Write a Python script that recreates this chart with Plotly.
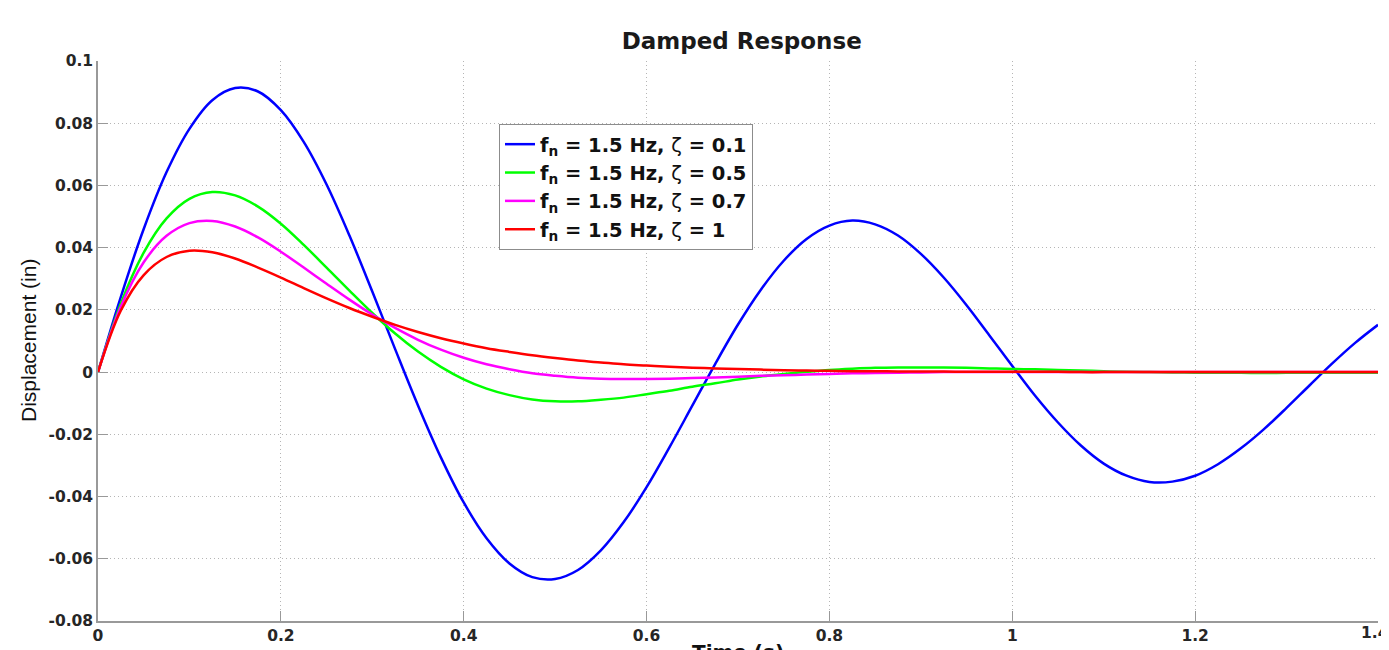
import plotly.graph_objects as go

# time samples (s)
time_s = [round(0.025 * i, 3) for i in range(57)]

disp_z01 = [0.0, 0.0242, 0.0460, 0.0643, 0.0782, 0.0874, 0.0913, 0.0902, 0.0842, 0.0740,
            0.0603, 0.0439, 0.0259, 0.0074, -0.0107, -0.0274, -0.0419, -0.0534, -0.0615, -0.0659,
            -0.0665, -0.0636, -0.0573, -0.0482, -0.0370, -0.0242, -0.0108, 0.0026, 0.0153, 0.0265,
            0.0358, 0.0428, 0.0471, 0.0487, 0.0475, 0.0439, 0.0380, 0.0304, 0.0215, 0.0118,
            0.0020, -0.0076, -0.0162, -0.0236, -0.0294, -0.0333, -0.0353, -0.0352, -0.0333, -0.0296,
            -0.0245, -0.0184, -0.0115, -0.0043, 0.0028, 0.0094, 0.0152]

disp_z05 = [0.0, 0.0221, 0.0384, 0.0494, 0.0557, 0.0579, 0.0568, 0.0532, 0.0477, 0.0409,
            0.0336, 0.0262, 0.0190, 0.0124, 0.0066, 0.0017, -0.0023, -0.0053, -0.0074, -0.0088,
            -0.0094, -0.0094, -0.0089, -0.0082, -0.0071, -0.0060, -0.0047, -0.0036, -0.0024, -0.0014,
            -0.0006, 0.0001, 0.0007, 0.0011, 0.0014, 0.0015, 0.0015, 0.0015, 0.0014, 0.0012,
            0.0010, 0.0009, 0.0007, 0.0005, 0.0003, 0.0001, 0.0, -0.0001, -0.0002, -0.0002,
            -0.0002, -0.0003, -0.0002, -0.0002, -0.0002, -0.0002, -0.0002]

disp_z07 = [0.0, 0.0211, 0.0353, 0.0438, 0.0479, 0.0486, 0.0468, 0.0433, 0.0387, 0.0336,
            0.0284, 0.0233, 0.0185, 0.0142, 0.0104, 0.0072, 0.0046, 0.0025, 0.0009, -0.0004,
            -0.0012, -0.0018, -0.0021, -0.0022, -0.0022, -0.0021, -0.0019, -0.0017, -0.0015, -0.0012,
            -0.0010, -0.0008, -0.0006, -0.0004, -0.0003, -0.0002, -0.0001, 0.0, 0.0, 0.0,
            0.0, 0.0, 0.0, 0.0, 0.0, 0.0, 0.0, 0.0, 0.0, 0.0,
            0.0, 0.0, 0.0, 0.0, 0.0, 0.0, 0.0]

disp_z10 = [0.0, 0.0198, 0.0312, 0.0370, 0.0390, 0.0385, 0.0365, 0.0336, 0.0304, 0.0270,
            0.0237, 0.0206, 0.0178, 0.0152, 0.0129, 0.0109, 0.0092, 0.0077, 0.0065, 0.0054,
            0.0045, 0.0037, 0.0031, 0.0025, 0.0021, 0.0017, 0.0014, 0.0012, 0.0010, 0.0008,
            0.0006, 0.0005, 0.0004, 0.0003, 0.0003, 0.0002, 0.0002, 0.0002, 0.0001, 0.0001,
            0.0001, 0.0001, 0.0001, 0.0, 0.0, 0.0, 0.0, 0.0, 0.0, 0.0,
            0.0, 0.0, 0.0, 0.0, 0.0, 0.0, 0.0]

series_labels = ["0.1", "0.5", "0.7", "1"]
series_colors = ["#0000ff", "#00ff00", "#ff00ff", "#ff0000"]

y_tickvals = [-0.08, -0.06, -0.04, -0.02, 0, 0.02, 0.04, 0.06, 0.08, 0.1]
y_ticktext = ["-0.08", "-0.06", "-0.04", "-0.02", "0", "0.02", "0.04", "0.06", "0.08", "0.1"]
x_tickvals = [0, 0.2, 0.4, 0.6, 0.8, 1.0, 1.2, 1.4]
x_ticktext = ["0", "0.2", "0.4", "0.6", "0.8", "1", "1.2", "1.4"]

fig = go.Figure()
for i, (ys, lab, col) in enumerate(zip([disp_z01, disp_z05, disp_z07, disp_z10], series_labels, series_colors)):
    fig.add_trace(go.Scatter(
        x=time_s, y=ys, mode="lines",
        line=dict(color=col, width=2.5, shape="spline", smoothing=1),
        name="<b>f<sub>n</sub> = 1.5 Hz, </b>ζ<b> = " + lab + "</b>",
        legendgroup="g%d" % i,
    ))

axis_font = dict(family="DejaVu Sans", size=15.5, color="#262626", weight="bold")

# page has an 8px body margin: figure is offset by (8, 8) in the window
OFF = 8
PAGE_W, PAGE_H = 1389, 650
L, R, T, B = 98, 1378, 61, 621   # plot area in page pixels
W, H = PAGE_W - OFF, PAGE_H - OFF

fig.update_layout(
    width=W, height=H,
    margin=dict(l=L - OFF, r=PAGE_W - R, t=T - OFF, b=PAGE_H - B, autoexpand=False),
    paper_bgcolor="white", plot_bgcolor="white",
    title=dict(text="<b>Damped Response</b>", x=(L + R) / 2 / PAGE_W, xanchor="center",
               y=1 - (41 - OFF) / H, yanchor="middle",
               font=dict(family="DejaVu Sans", size=23, color="#1a1a1a")),
    showlegend=True,
    legend=dict(x=(499 - L) / (R - L), y=(B - 124) / (B - T), xanchor="left", yanchor="top",
                bordercolor="#8c8c8c", borderwidth=1, bgcolor="white",
                font=dict(family="DejaVu Sans", size=19.5, color="#111"),
                tracegroupgap=0, itemwidth=30),
)

grid_dash = "1px,3px"
# the last x tick label is drawn as an annotation (kept inside the window edge)
fig.update_xaxes(range=[0, 1.4], tickvals=x_tickvals, ticktext=x_ticktext[:-1] + [""], automargin=False,
                 showline=True, linecolor="#999999", linewidth=1.5, mirror=False,
                 ticks="inside", ticklen=10, tickcolor="#999999",
                 showgrid=True, gridcolor="#b5b5b5", griddash=grid_dash, gridwidth=1,
                 zeroline=False, tickfont=axis_font)
fig.update_yaxes(range=[-0.08, 0.1], tickvals=y_tickvals, ticktext=y_ticktext, automargin=False,
                 showline=True, linecolor="#999999", linewidth=1.5, mirror=False,
                 ticks="inside", ticklen=10, tickcolor="#999999",
                 showgrid=True, gridcolor="#b5b5b5", griddash=grid_dash, gridwidth=1,
                 zeroline=False, tickfont=axis_font)

fig.add_annotation(text=x_ticktext[-1], xref="x", yref="paper",
                   x=x_tickvals[-1], y=0, xshift=-3, yshift=-1, xanchor="center", yanchor="top",
                   showarrow=False, font=axis_font)
fig.add_annotation(text="Displacement (in)", xref="paper", yref="paper",
                   x=0, y=0.5, xshift=-70, xanchor="center", yanchor="middle",
                   textangle=-90, showarrow=False,
                   font=dict(family="Liberation Sans", size=21, color="#111"))
fig.add_annotation(text="<b>Time (s)</b>", xref="paper", yref="paper",
                   x=0.5, y=0, yshift=-17, xanchor="center", yanchor="top", showarrow=False,
                   font=dict(family="DejaVu Sans", size=20, color="#111"))

fig.write_html("out.html")
